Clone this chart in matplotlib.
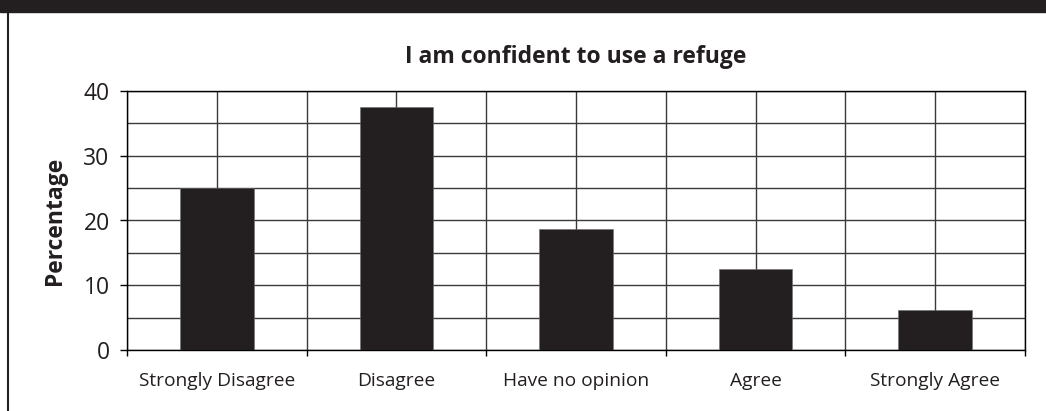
import matplotlib
matplotlib.use("Agg")
import matplotlib.pyplot as plt
from matplotlib.patches import Rectangle
from matplotlib.lines import Line2D

plt.rcParams['font.family'] = ['Open Sans', 'DejaVu Sans']

# data
categories = ['Strongly Disagree', 'Disagree', 'Have no opinion', 'Agree', 'Strongly Agree']
percentages = [25, 37.5, 18.75, 12.5, 6.25]
y_ticks = [0, 10, 20, 30, 40]

INK = '#231f20'
GRID = '#3a3a3a'

fig = plt.figure(figsize=(10.46, 4.11), dpi=100)

# dark band at the top and the frame line on the left
fig.patches.append(Rectangle((0, 1 - 12 / 411), 1, 12 / 411, transform=fig.transFigure,
                             color=INK, zorder=0))
fig.lines.append(Line2D([7.5 / 1046, 7.5 / 1046], [0, 1 - 12 / 411], transform=fig.transFigure,
                        color=INK, lw=1.5))

ax = fig.add_axes([127 / 1046, 61 / 411, 898 / 1046, 259 / 411])
x = list(range(len(categories)))
ax.bar(x, percentages, width=0.41, color=INK, edgecolor='#6e6e6e', linewidth=0.4, zorder=3)

ax.set_xlim(-0.5, len(categories) - 0.5)
ax.set_ylim(0, 40)

# category labels at the centres, tick marks at the boundaries
ax.set_xticks(x)
ax.set_xticklabels(categories, fontsize=13.8, color=INK)
ax.set_xticks([i - 0.5 for i in range(len(categories) + 1)], minor=True)
ax.tick_params(axis='x', which='major', length=0, pad=16)
ax.tick_params(axis='x', which='minor', length=4, width=1, color='black', direction='out')

ax.set_yticks(y_ticks)
ax.set_yticklabels([str(v) for v in y_ticks], fontsize=16.5, color=INK)
ax.set_yticks([5, 15, 25, 35], minor=True)
ax.tick_params(axis='y', which='major', length=5, width=1, color='black', pad=7.5)
ax.tick_params(axis='y', which='minor', length=0)

ax.grid(True, which='both', color=GRID, linewidth=1, zorder=0)
ax.set_axisbelow(True)
for sp in ax.spines.values():
    sp.set_color('black')
    sp.set_linewidth(1)

ax.set_ylabel('Percentage', fontsize=16.5, fontweight='bold', color=INK, labelpad=12)
ax.set_title('I am confident to use a refuge', fontsize=16.5, fontweight='bold', color=INK, pad=20)

fig.savefig('out.png', dpi=100)
